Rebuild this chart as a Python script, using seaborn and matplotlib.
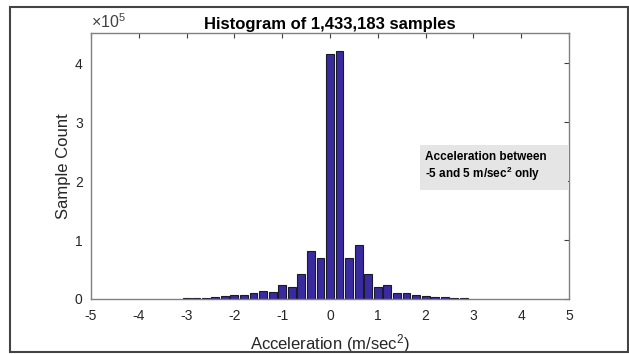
import numpy as np
import pandas as pd
import matplotlib
matplotlib.use("Agg")
import matplotlib.pyplot as plt
from matplotlib.patches import Rectangle
import seaborn as sns

# ---- data ----
bin_centers = [-3.0, -2.8, -2.6, -2.4, -2.2, -2.0, -1.8, -1.6, -1.4, -1.2,
               -1.0, -0.8, -0.6, -0.4, -0.2, 0.0, 0.2, 0.4, 0.6, 0.8,
               1.0, 1.2, 1.4, 1.6, 1.8, 2.0, 2.2, 2.4, 2.6, 2.8]
sample_counts = [1500, 1500, 1800, 3400, 5000, 6000, 6800, 10000, 13600, 12000,
                 23500, 21000, 42000, 81500, 69000, 416000, 420000, 69000, 92000, 42000,
                 20500, 23500, 9600, 9600, 6300, 4500, 3400, 2800, 1800, 1500]
x_ticks = [-5, -4, -3, -2, -1, 0, 1, 2, 3, 4, 5]
y_ticks = [0, 100000, 200000, 300000, 400000]
y_tick_labels = ["0", "1", "2", "3", "4"]

sns.set_style("white")
plt.rcParams["font.family"] = ["Liberation Sans", "DejaVu Sans"]
plt.rcParams["mathtext.fontset"] = "custom"
plt.rcParams["mathtext.rm"] = "Liberation Sans"
plt.rcParams["mathtext.it"] = "Liberation Sans:italic"
plt.rcParams["mathtext.bf"] = "Liberation Sans:bold"

df = pd.DataFrame({"accel": bin_centers, "count": sample_counts})

fig = plt.figure(figsize=(6.29, 3.54), dpi=100)
ax = fig.add_axes([91 / 629, 1 - 299 / 354, (569 - 91) / 629, (299 - 33) / 354])

sns.histplot(data=df, x="accel", weights="count", binwidth=0.2,
             binrange=(-3.1, 2.9), shrink=0.82, color="#3a2aa0",
             edgecolor="#1a1a2a", linewidth=0.8, alpha=1, ax=ax)

ax.set_xlim(-5, 5)
ax.set_ylim(0, 451000)
ax.set_xticks(x_ticks)
ax.set_xticklabels([str(t) for t in x_ticks])
ax.set_yticks(y_ticks)
ax.set_yticklabels(y_tick_labels)

txt = "#262626"
ax.tick_params(direction="in", length=3.5, width=0.8, colors="#404040",
               top=True, right=True, labelsize=10, labelcolor=txt)
ax.tick_params(axis="x", pad=7)
ax.tick_params(axis="y", pad=6)
for s in ax.spines.values():
    s.set_visible(True)
    s.set_color("#808080")
    s.set_linewidth(1.0)

ax.set_xlabel("Acceleration (m/sec$^{2}$)", fontsize=12, color=txt, labelpad=7)
ax.set_ylabel("Sample Count", fontsize=12, color=txt, labelpad=3)
ax.set_title("Histogram of 1,433,183 samples", fontsize=12, fontweight="bold",
             color="black", pad=3)

fig.text(91 / 629, 1 - 22 / 354, r"$\times$10$^{5}$", fontsize=11.5, color="#404040",
         ha="left", va="center")

# annotation box
ax.add_patch(Rectangle((0.688, 0.41), 0.31, 0.169, transform=ax.transAxes,
                       facecolor="#e5e5e5", edgecolor="none", zorder=3))
ax.text(0.699, 0.532, "Acceleration between", transform=ax.transAxes,
        fontsize=8.5, fontweight="bold", color="black", ha="left", va="center", zorder=4)
ax.text(0.699, 0.470, "-5 and 5 m/sec$^{\\mathbf{2}}$ only", transform=ax.transAxes,
        fontsize=8.5, fontweight="bold", color="black", ha="left", va="center", zorder=4)

fig.patches.append(Rectangle((10 / 629, 2 / 354), 618 / 629, 345 / 354,
                             transform=fig.transFigure, fill=False,
                             edgecolor="#444444", linewidth=1.5))

fig.savefig("out.png", dpi=100)
